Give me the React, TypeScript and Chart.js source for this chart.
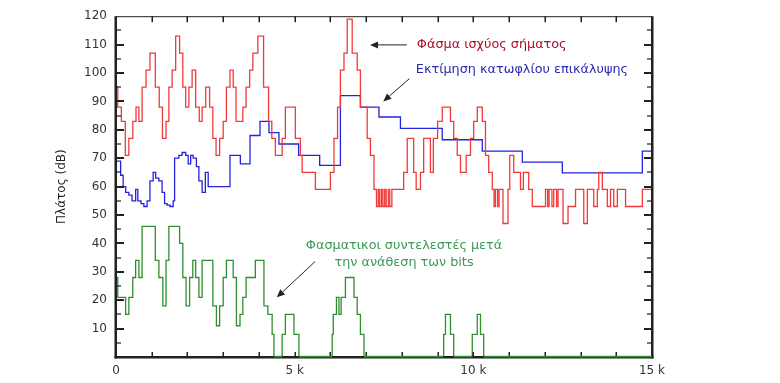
import React, { useEffect, useRef } from "react";
import { Chart, registerables } from "chart.js";

Chart.register(...registerables);

// ---- Data (frequency in kHz, level in dB); each value holds until the next breakpoint ----
const redFreq = [0, 0.05, 0.15, 0.26, 0.36, 0.47, 0.56, 0.64, 0.73, 0.84, 0.95, 1.1, 1.21, 1.3, 1.4, 1.48, 1.57, 1.67, 1.78, 1.87, 1.95, 2.04, 2.13, 2.23, 2.33, 2.41, 2.51, 2.62, 2.71, 2.8, 2.9, 3.0, 3.09, 3.19, 3.28, 3.36, 3.55, 3.64, 3.74, 3.83, 3.97, 4.13, 4.27, 4.36, 4.46, 4.65, 4.74, 5.02, 5.16, 5.21, 5.58, 6.0, 6.1, 6.2, 6.28, 6.38, 6.47, 6.61, 6.75, 6.84, 7.03, 7.12, 7.22, 7.29, 7.34, 7.38, 7.43, 7.47, 7.52, 7.56, 7.62, 7.66, 7.72, 8.05, 8.15, 8.33, 8.4, 8.52, 8.61, 8.8, 8.88, 9.0, 9.13, 9.36, 9.45, 9.55, 9.64, 9.8, 9.92, 10.01, 10.11, 10.25, 10.34, 10.43, 10.53, 10.58, 10.62, 10.68, 10.72, 10.83, 10.97, 11.02, 11.13, 11.32, 11.4, 11.55, 11.65, 12.02, 12.08, 12.12, 12.2, 12.25, 12.33, 12.37, 12.51, 12.65, 12.86, 13.09, 13.19, 13.37, 13.47, 13.51, 13.61, 13.75, 13.84, 13.93, 14.03, 14.26, 14.73, 15];
const redDb = [95, 88, 83, 71, 77, 83, 88, 83, 95, 101, 107, 95, 88, 77, 83, 95, 101, 113, 107, 95, 88, 95, 101, 88, 83, 88, 95, 88, 77, 71, 77, 83, 95, 101, 95, 83, 88, 95, 101, 107, 113, 95, 83, 77, 71, 77, 88, 77, 71, 65, 59, 65, 77, 88, 101, 107, 119, 107, 101, 88, 77, 71, 59, 53, 59, 53, 59, 53, 59, 53, 59, 53, 59, 65, 77, 65, 59, 65, 77, 65, 77, 83, 88, 83, 77, 71, 65, 71, 77, 83, 88, 83, 71, 65, 59, 53, 59, 53, 59, 47, 59, 71, 65, 59, 65, 59, 53, 59, 53, 59, 53, 59, 53, 59, 47, 53, 59, 47, 59, 53, 59, 65, 59, 53, 59, 53, 59, 53, 59, 59];

const blueFreq = [0, 0.13, 0.2, 0.27, 0.36, 0.45, 0.55, 0.61, 0.7, 0.78, 0.87, 0.95, 1.04, 1.11, 1.2, 1.29, 1.36, 1.43, 1.51, 1.6, 1.64, 1.76, 1.85, 1.95, 2.02, 2.09, 2.16, 2.25, 2.32, 2.41, 2.5, 2.58, 3.19, 3.48, 3.75, 4.03, 4.28, 4.56, 5.11, 5.7, 6.28, 6.84, 7.36, 7.96, 9.13, 10.25, 11.37, 12.49, 14.73, 15];
const blueDb = [69, 64, 60, 58, 57, 55, 59, 55, 54, 53, 55, 62, 65, 63, 62, 58, 54, 53.5, 53, 55, 70, 71, 72, 71, 68, 71, 70, 67, 62, 58, 65, 60, 71, 68, 78, 83, 79, 75, 71, 67.5, 92, 88, 84.5, 80.5, 76.5, 72.5, 68.6, 64.8, 72.5, 72.5];

const greenFreq = [0, 0.05, 0.27, 0.36, 0.47, 0.55, 0.64, 0.73, 1.1, 1.2, 1.31, 1.4, 1.48, 1.78, 1.87, 1.96, 2.06, 2.15, 2.23, 2.32, 2.41, 2.71, 2.81, 2.9, 3.0, 3.09, 3.28, 3.37, 3.47, 3.55, 3.64, 3.9, 4.14, 4.25, 4.37, 4.42, 4.65, 4.74, 4.98, 5.12, 6.05, 6.08, 6.17, 6.24, 6.3, 6.42, 6.66, 6.75, 6.84, 6.94, 9.17, 9.22, 9.36, 9.45, 9.97, 10.11, 10.2, 10.29, 15];
const greenDb = [28, 21, 15, 21, 28, 34, 28, 46, 34, 28, 18, 34, 46, 40, 28, 18, 28, 34, 28, 21, 34, 18, 11, 18, 28, 34, 28, 11, 15, 21, 28, 34, 18, 15, 8, 0, 8, 15, 8, 0, 8, 15, 21, 15, 21, 28, 21, 15, 8, 0, 8, 15, 8, 0, 8, 15, 8, 0, 0];

// Axis tick labels
const xTickValues = [0, 5, 10, 15];
const xTickLabels = ["0", "5 k", "10 k", "15 k"];
const yAxisTitle = "Πλάτος (dB)";

// Annotation texts
const labelPower = "Φάσμα ισχύος σήματος";
const labelThreshold = "Εκτίμηση κατωφλίου επικάλυψης";
const labelBitsLine1 = "Φασματικοι συντελεστές μετά";
const labelBitsLine2 = "την ανάθεση των bits";

const toPoints = (fx: number[], fy: number[]) => fx.map((f, i) => ({ x: f, y: fy[i] }));

const FONT = "'DejaVu Sans', sans-serif";
const AXIS_COLOR = "#202020";
const GREEN = "#2f8f2f";

type TextNote = { text: string; f: number; db: number; color: string; align: CanvasTextAlign };
type ArrowNote = { from: [number, number]; to: [number, number] };

const textNotes: TextNote[] = [
  { text: labelPower, f: 8.42, db: 110, color: "#a8102c", align: "left" },
  { text: labelThreshold, f: 8.39, db: 101, color: "#2a2ab4", align: "left" },
  { text: labelBitsLine1, f: 8.06, db: 39.2, color: "#3a9a58", align: "center" },
  { text: labelBitsLine2, f: 8.06, db: 33.3, color: "#3a9a58", align: "center" },
];

const arrowNotes: ArrowNote[] = [
  { from: [8.14, 109.9], to: [7.11, 109.9] },
  { from: [8.21, 98], to: [7.48, 90] },
  { from: [5.57, 33.6], to: [4.5, 21] },
];

// Inward minor/major tick positions on the frame (axis units)
const xFrameTicks = [1, 2, 3, 4, 5, 6, 7, 8, 9, 10, 11, 12, 13, 14];
const yFrameTicks = [5, 10, 15, 20, 25, 30, 35, 40, 45, 50, 55, 60, 65, 70, 75, 80, 85, 90, 95, 100, 105, 110, 115];

function drawFrame(chart: any) {
  const ctx: CanvasRenderingContext2D = chart.ctx;
  const xs = chart.scales.x;
  const ys = chart.scales.y;
  const L = xs.getPixelForValue(0);
  const R = xs.getPixelForValue(15);
  const T = ys.getPixelForValue(120);
  const B = ys.getPixelForValue(0);
  ctx.save();
  ctx.fillStyle = AXIS_COLOR;
  ctx.fillRect(L - 1.5, T, 2.5, B - T + 1.5);
  ctx.fillRect(R - 1, T, 2.5, B - T + 1.5);
  ctx.fillRect(L - 1.5, B - 1, R - L + 3, 2.5);
  ctx.fillRect(L, T, R - L, 1);
  for (const k of xFrameTicks) {
    const px = Math.round(xs.getPixelForValue(k));
    ctx.fillRect(px - 0.5, B - 5, 1.5, 5);
    ctx.fillRect(px - 0.5, T, 1.5, 6);
  }
  for (const v of yFrameTicks) {
    const py = Math.round(ys.getPixelForValue(v));
    const major = v % 10 === 0;
    const len = major ? 8 : 5;
    const w = major ? 2 : 1.2;
    ctx.fillRect(L, py - w / 2, len, w);
    ctx.fillRect(R - len, py - w / 2, len, w);
  }
  // green zero-level runs of the bit-allocation line lie on the bottom axis, drawn on top
  ctx.fillStyle = GREEN;
  for (let i = 0; i < greenFreq.length - 1; i++) {
    if (greenDb[i] === 0) {
      const xa = xs.getPixelForValue(greenFreq[i]);
      const xb = xs.getPixelForValue(greenFreq[i + 1]);
      ctx.fillRect(xa, B - 1.2, xb - xa, 1.6);
    }
  }
  ctx.restore();
}

function drawNotes(chart: any) {
  const ctx: CanvasRenderingContext2D = chart.ctx;
  const xs = chart.scales.x;
  const ys = chart.scales.y;
  ctx.save();
  ctx.font = `12.8px ${FONT}`;
  ctx.textBaseline = "middle";
  for (const t of textNotes) {
    ctx.fillStyle = t.color;
    ctx.textAlign = t.align;
    ctx.fillText(t.text, xs.getPixelForValue(t.f), ys.getPixelForValue(t.db));
  }
  ctx.strokeStyle = "#222";
  ctx.fillStyle = "#222";
  ctx.lineWidth = 1;
  for (const a of arrowNotes) {
    const x1 = xs.getPixelForValue(a.from[0]);
    const y1 = ys.getPixelForValue(a.from[1]);
    const x2 = xs.getPixelForValue(a.to[0]);
    const y2 = ys.getPixelForValue(a.to[1]);
    const ang = Math.atan2(y2 - y1, x2 - x1);
    const hl = 8;
    const hw = 3.5;
    const bx = x2 - hl * Math.cos(ang);
    const by = y2 - hl * Math.sin(ang);
    ctx.beginPath();
    ctx.moveTo(x1, y1);
    ctx.lineTo(bx, by);
    ctx.stroke();
    ctx.beginPath();
    ctx.moveTo(x2, y2);
    ctx.lineTo(bx + hw * Math.sin(ang), by - hw * Math.cos(ang));
    ctx.lineTo(bx - hw * Math.sin(ang), by + hw * Math.cos(ang));
    ctx.closePath();
    ctx.fill();
  }
  ctx.restore();
}

const decorPlugin = {
  id: "chartDecor",
  afterDatasetsDraw(chart: any) {
    drawFrame(chart);
    drawNotes(chart);
  },
};

export default function App() {
  const canvasRef = useRef<HTMLCanvasElement | null>(null);

  useEffect(() => {
    document.body.style.margin = "0";
    const canvas = canvasRef.current;
    if (!canvas) return;
    const chart = new Chart(canvas, {
      type: "line",
      data: {
        datasets: [
          {
            label: labelPower,
            data: toPoints(redFreq, redDb),
            borderColor: "#f03a3a",
            borderWidth: 1.3,
            stepped: true,
            pointRadius: 0,
            fill: false,
            clip: false,
          },
          {
            label: labelThreshold,
            data: toPoints(blueFreq, blueDb),
            borderColor: "#2424dc",
            borderWidth: 1.3,
            stepped: true,
            pointRadius: 0,
            fill: false,
            clip: false,
          },
          {
            label: labelBitsLine1,
            data: toPoints(greenFreq, greenDb),
            borderColor: GREEN,
            borderWidth: 1.3,
            stepped: true,
            pointRadius: 0,
            fill: false,
            clip: false,
          },
        ],
      },
      options: {
        animation: false,
        responsive: true,
        maintainAspectRatio: false,
        layout: { padding: { left: 0, right: 128, top: 14, bottom: 0 } },
        plugins: { legend: { display: false }, tooltip: { enabled: false } },
        scales: {
          x: {
            type: "linear",
            min: 0,
            max: 15,
            grid: { display: false, drawTicks: false },
            border: { display: false },
            afterBuildTicks: (scale: any) => {
              scale.ticks = xTickValues.map((v) => ({ value: v }));
            },
            afterFit: (scale: any) => {
              scale.height = 26;
            },
            ticks: {
              padding: 7,
              maxRotation: 0,
              autoSkip: false,
              color: "#333",
              font: { family: FONT, size: 12 },
              callback: (v: any) => {
                const i = xTickValues.indexOf(Number(v));
                return i >= 0 ? xTickLabels[i] : "";
              },
            },
          },
          y: {
            type: "linear",
            min: 0,
            max: 120,
            grid: { display: false, drawTicks: false },
            border: { display: false },
            afterFit: (scale: any) => {
              scale.width = 116;
            },
            ticks: {
              stepSize: 10,
              padding: 9,
              color: "#333",
              font: { family: FONT, size: 12 },
              callback: (v: any) => (Number(v) === 0 ? "" : String(v)),
            },
            title: {
              display: true,
              text: yAxisTitle,
              color: "#222",
              font: { family: FONT, size: 12 },
              padding: { top: 55, bottom: 0 },
            },
          },
        },
      },
      plugins: [decorPlugin],
    });
    return () => chart.destroy();
  }, []);

  return (
    <div style={{ width: 780, height: 383, position: "relative", background: "#fff" }}>
      <canvas ref={canvasRef} />
    </div>
  );
}
